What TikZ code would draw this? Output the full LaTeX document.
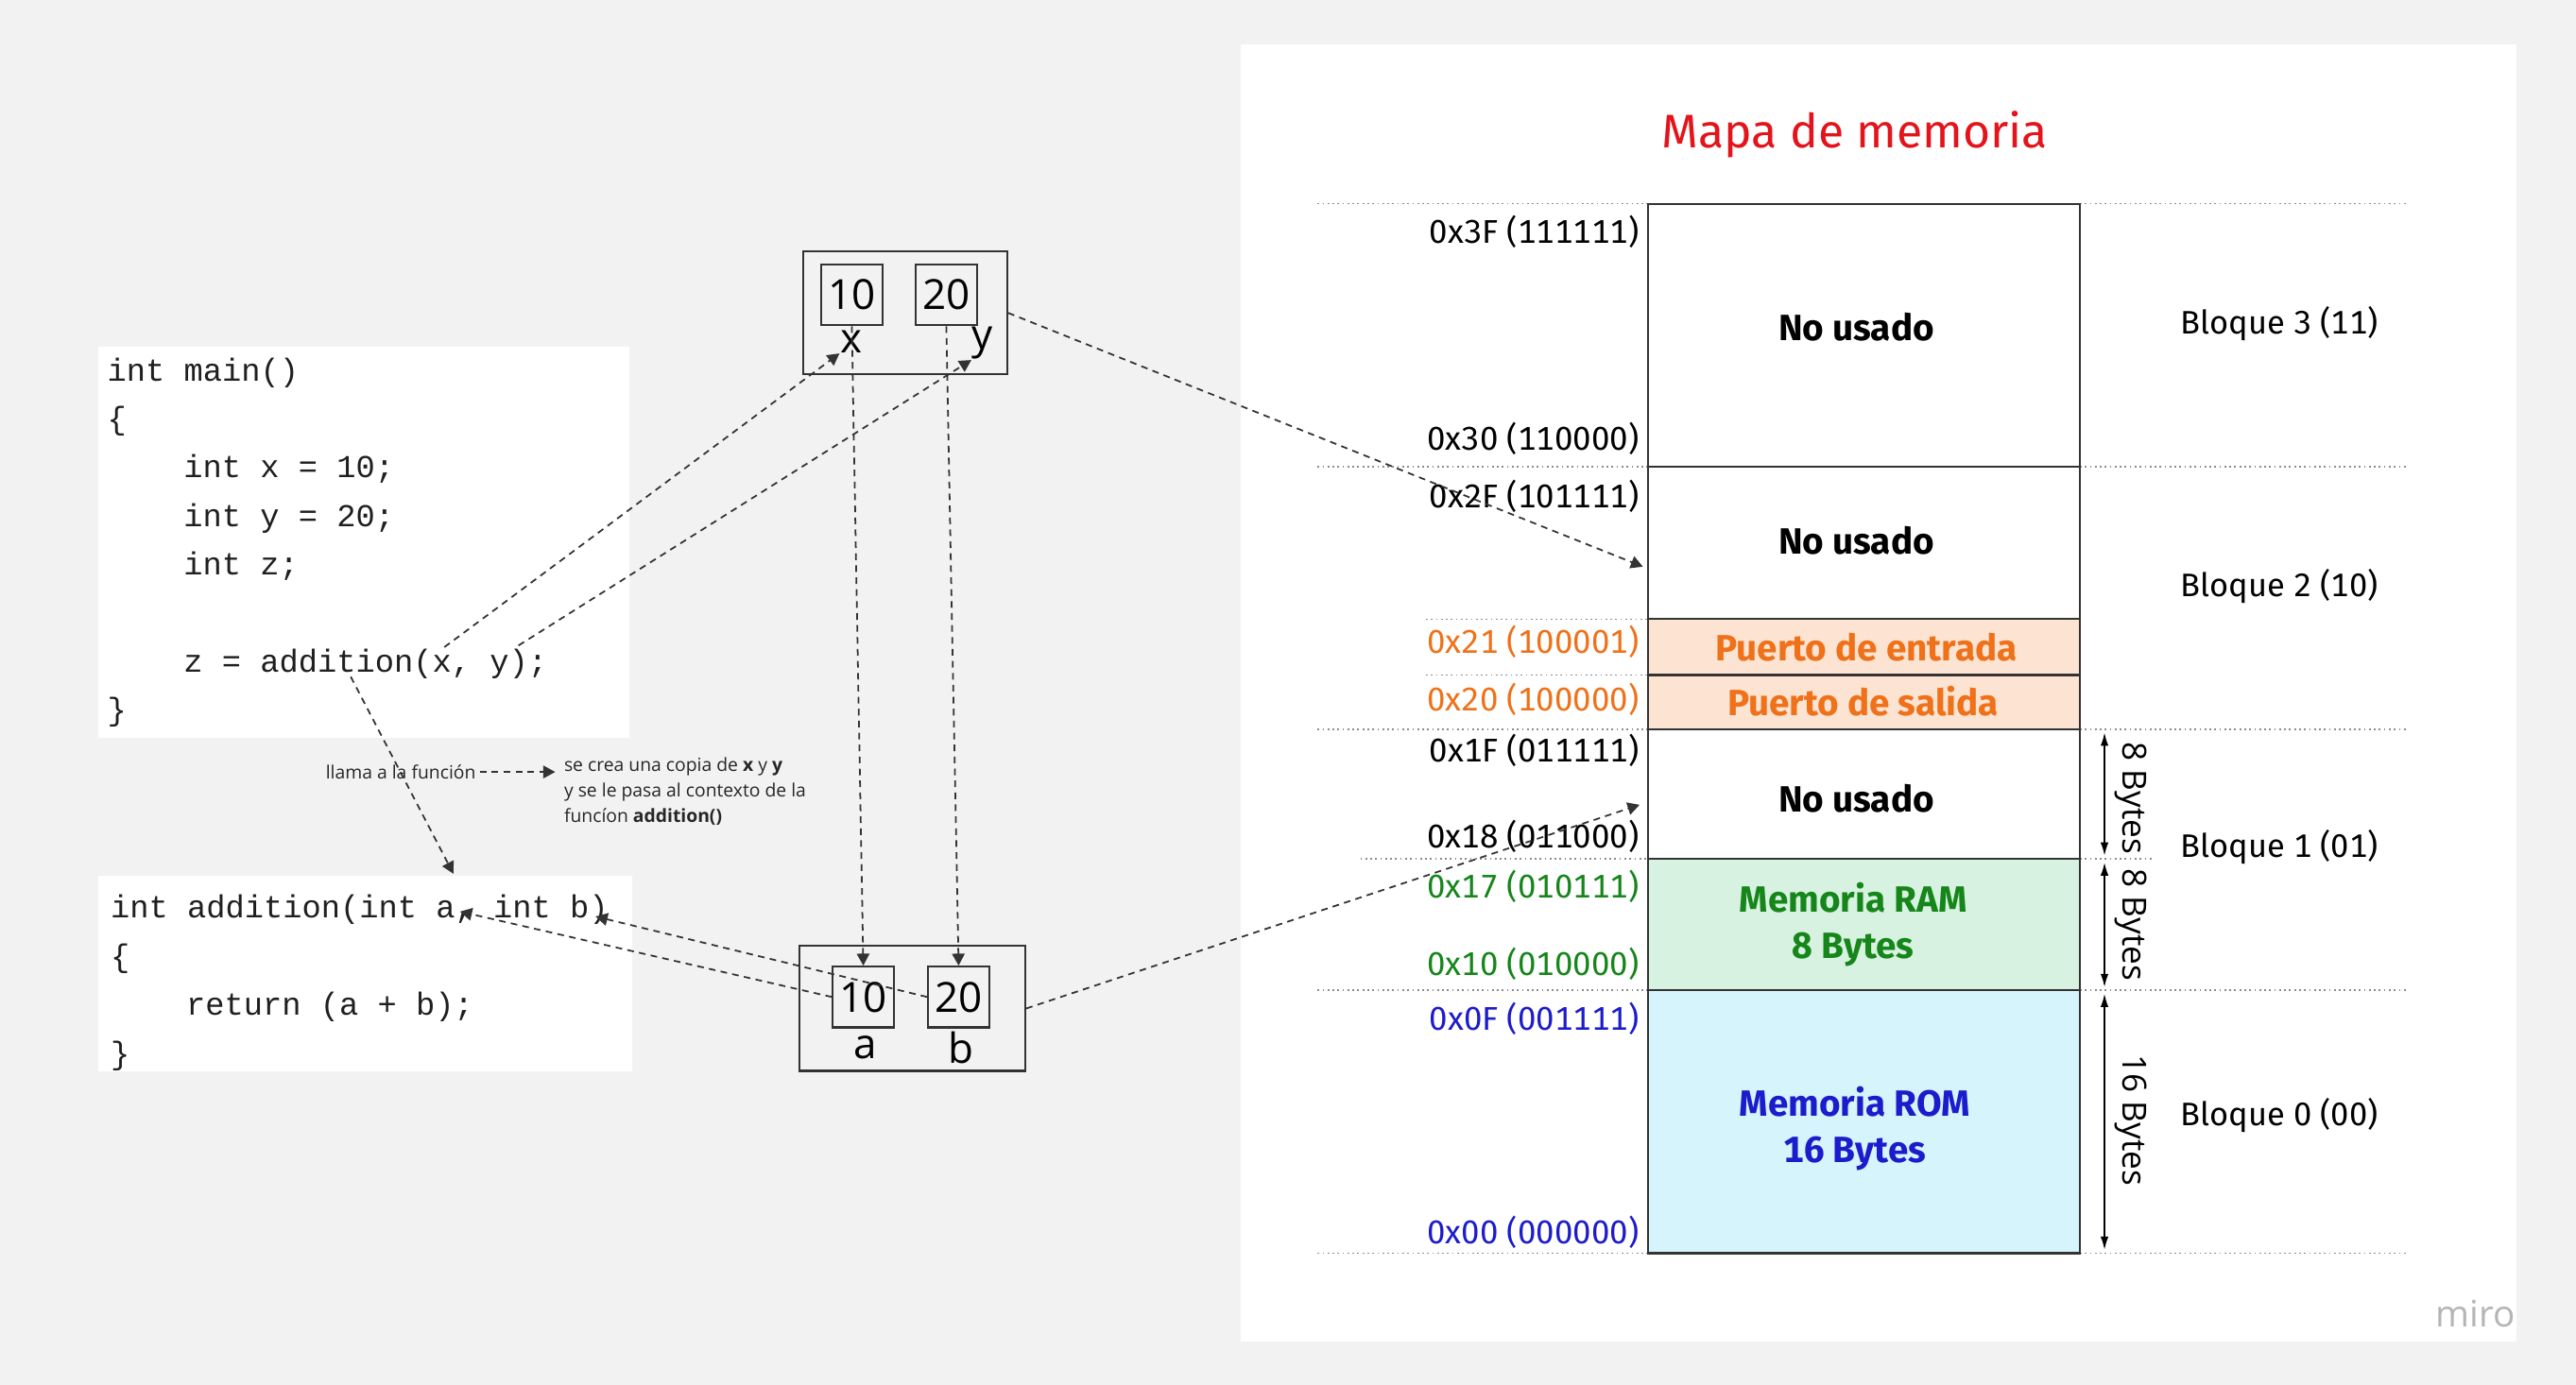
\documentclass[tikz,border=0pt]{standalone}
\usepackage{fontspec}
\setmainfont{Open Sans}
\setmonofont{Liberation Mono}
\newfontfamily\mapa[Numbers=Monospaced]{Fira Sans}
\usetikzlibrary{arrows.meta,positioning}

\definecolor{fondo}{HTML}{F2F2F2}
\definecolor{trazo}{HTML}{333333}
\definecolor{punteo}{HTML}{8C8C8C}
\definecolor{titulo}{HTML}{E3141B}
\definecolor{naranja}{HTML}{EF7119}
\definecolor{verde}{HTML}{16861A}
\definecolor{azul}{HTML}{1C1CCC}
\definecolor{crema}{HTML}{FDE3D2}
\definecolor{menta}{HTML}{D7F2E1}
\definecolor{celeste}{HTML}{D5F4FC}
\definecolor{marca}{HTML}{B5B5B5}

\newlength\unidad
\setlength\unidad{0.017385cm}

\tikzset{
  caja/.style={fill=white, inner sep=0pt},
  codigo/.style={font=\ttfamily\fontsize{9.6}{12}\selectfont, inner sep=0pt, anchor=base west, text=black!88},
  marco/.style={draw=trazo, line width=0.6pt, inner sep=0pt},
  valor/.style={draw=trazo, line width=0.6pt, minimum width=37*\unidad, minimum height=37*\unidad, inner sep=0pt, font=\fontsize{12.5}{14}\selectfont},
  nombre/.style={inner sep=0pt, font=\fontsize{12.5}{14}\selectfont},
  flecha/.style={draw=trazo, line width=0.5pt, dash pattern=on 2pt off 1.6pt, -{Triangle[length=3.6pt,width=3.8pt]}},
  nota/.style={font=\fontsize{5.5}{7.67}\selectfont, inner sep=0pt, text=black!85},
  direccion/.style={font=\mapa\fontsize{9.9}{12}\selectfont, anchor=east, inner sep=0pt},
  bloque/.style={font=\mapa\fontsize{9.8}{12}\selectfont, anchor=west, inner sep=0pt},
  celda/.style={font=\mapa\bfseries\fontsize{11}{13.8}\selectfont, align=center, inner sep=0pt},
  guia/.style={draw=punteo, line width=0.5pt, dash pattern=on 0.5pt off 1pt},
  linea/.style={draw=trazo, line width=0.6pt},
  medida/.style={draw=black, line width=0.5pt, {Latex[length=4pt,width=2.4pt]}-{Latex[length=4pt,width=2.4pt]}},
  tamano/.style={font=\fontsize{10}{12}\selectfont, rotate=-90, inner sep=0pt},
}

\begin{document}
\begin{tikzpicture}[x=0.017385cm, y=-0.017385cm]
	% fondo y panel
	\fill[fondo] (0,0) rectangle (1568,843);
	\useasboundingbox (0,0) rectangle (1568,843);
	\fill[white] (755,27) rectangle (1532,817);

	% codigo
	\node[caja, minimum width=323*\unidad, minimum height=238*\unidad] (main) at (221.5,330) {};
	\node[caja, minimum width=325*\unidad, minimum height=119*\unidad] (cajaf) at (222.5,592.5) {};

	\node[codigo] (m1) at (65,232) {int main()};
	\node[codigo] (m2) at (65,261.5) {\{};
	\node[codigo] (m3) at (111.4,291) {int x = 10;};
	\node[codigo] (m4) at (111.4,320.5) {int y = 20;};
	\node[codigo] (m5) at (111.4,350) {int z;};
	\node[codigo] (m6) at (111.4,409) {z = addition(x, y);};
	\node[codigo] (m7) at (65,438.5) {\}};

	\node[codigo] (f1) at (67,559) {int addition(int a, int b)};
	\node[codigo] (f2) at (67,589) {\{};
	\node[codigo] (f3) at (113,618) {return (a + b);};
	\node[codigo] (f4) at (67,648) {\}};

	% variables
	\node[marco, minimum width=124*\unidad, minimum height=75*\unidad] (marcoxy) at (551,190.5) {};
	\node[valor] (vx) at (518.5,179.5) {10};
	\node[valor] (vy) at (576,179.5) {20};
	\node[nombre] (lx) at (518,208) {x};
	\node[nombre] (ly) at (598,209) {y};

	\node[marco, minimum width=137.5*\unidad, minimum height=76*\unidad] (marcoab) at (555.25,614) {};
	\node[valor] (va) at (525.5,607) {10};
	\node[valor] (vb) at (583.5,607) {20};
	\node[nombre] (la) at (527,638) {a};
	\node[nombre] (lb) at (585,638) {b};

	% nota
	\node[nota, anchor=east] (llama) at (290,470) {llama a la función};
	\node[nota, anchor=north west, align=left] (copia) at (343,461)
		{se crea una copia de \textbf{x} y \textbf{y}\\y se le pasa al contexto de la\\funcíon \textbf{addition()}};

	% mapa de memoria
	\node[font=\mapa\fontsize{14.2}{16}\selectfont, text=titulo] (titulo) at (1129,82) {Mapa de memoria};

	\fill[crema] (1003,377) rectangle (1266,444);
	\fill[menta] (1003,523) rectangle (1266,603);
	\fill[celeste] (1003,603) rectangle (1266,763);

	\foreach \y in {124,284,444,603,763} {
		\draw[guia] (802,\y) -- (1003,\y);
		\draw[guia] (1266,\y) -- (1466,\y);
	}
	\draw[guia] (868,377) -- (1003,377);
	\draw[guia] (868,411) -- (1003,411);
	\draw[guia] (828,523) -- (1003,523);
	\draw[guia] (1266,523) -- (1310,523);

	\draw[linea] (1003,124) rectangle (1266,763);
	\foreach \y in {284,377,411,444,523,603}
		\draw[linea] (1003,\y) -- (1266,\y);

	\node[celda] (n3) at (1130,199) {No usado};
	\node[celda] (n2) at (1130,329) {No usado};
	\node[celda, text=naranja] (pe) at (1136,394) {Puerto de entrada};
	\node[celda, text=naranja] (ps) at (1134,427) {Puerto de salida};
	\node[celda] (n1) at (1130,486) {No usado};
	\node[celda, text=verde] (ram) at (1128,563) {Memoria RAM\\8 Bytes};
	\node[celda, text=azul] (rom) at (1129,687) {Memoria ROM\\16 Bytes};

	\foreach \y/\t/\c in {141/0x3F (111111)/black, 267/0x30 (110000)/black,
		302/0x2F (101111)/black, 391/0x21 (100001)/naranja, 426/0x20 (100000)/naranja,
		457/0x1F (011111)/black, 509/0x18 (011000)/black, 540/0x17 (010111)/verde,
		587/0x10 (010000)/verde, 620/0x0F (001111)/azul, 750/0x00 (000000)/azul}
		\node[direccion, text=\c] at (998,\y) {\t};

	\node[bloque] (b3) at (1327,197) {Bloque 3 (11)};
	\node[bloque] (b2) at (1327,357) {Bloque 2 (10)};
	\node[bloque] (b1) at (1327,516) {Bloque 1 (01)};
	\node[bloque] (b0) at (1327,679) {Bloque 0 (00)};

	\draw[medida] (1281,446) -- (1281,521);
	\draw[medida] (1281,525) -- (1281,601);
	\draw[medida] (1281,605) -- (1281,761);
	\node[tamano] (t1) at (1297,486) {8 Bytes};
	\node[tamano] (t2) at (1297,563) {8 Bytes};
	\node[tamano] (t3) at (1297,682) {16 Bytes};

	\node[font=\fontsize{11}{13}\selectfont, text=marca] (miro) at (1507,800) {miro};

	% conexiones
	\coordinate (argx) at (270.5,394);
	\coordinate (argy) at (315.6,393);
	\coordinate (llamada) at (213.5,412);
	\coordinate (entrada) at (276,532);
	\coordinate (pa) at (280,555);
	\coordinate (pb) at (362.5,558);
	\coordinate (libre) at (1000,345);
	\coordinate (ocupado) at (998,490);

	\draw[flecha] (vx.south) -- (va.north);
	\draw[flecha] (vy.south) -- (vb.north);
	\draw[flecha] (argx) -- (lx.south west);
	\draw[flecha] (argy) -- (ly.south west);
	\draw[flecha] (llamada) -- (entrada);
	\draw[flecha] (va.west) -- (pa);
	\draw[flecha] (vb.west) -- (pb);
	\draw[flecha] (marcoxy.east) -- (libre);
	\draw[flecha] (marcoab.east) -- (ocupado);
	\draw[flecha, shorten <=1pt, shorten >=2.5pt] (llama.east) -- (llama.east -| copia.west);
\end{tikzpicture}
\end{document}
